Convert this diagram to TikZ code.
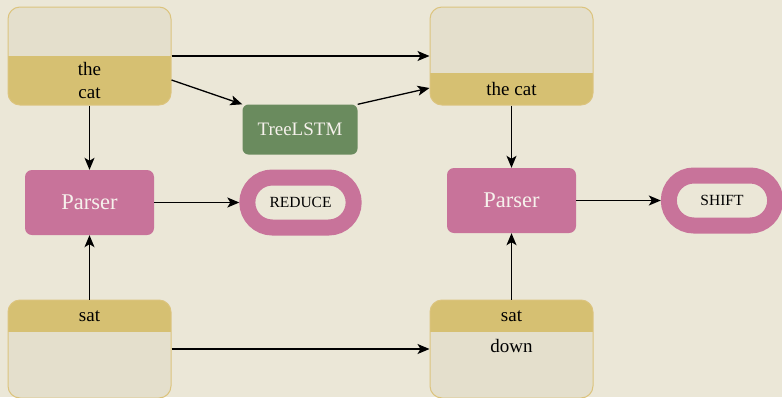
\documentclass[tikz,border=0pt]{standalone}
\usepackage{fontspec}
\setmainfont{Liberation Serif}
\usetikzlibrary{arrows.meta,shapes.misc}
\definecolor{bgpaper}{HTML}{EBE7D7}
\definecolor{boxfill}{HTML}{E4DFCC}
\definecolor{goldfill}{HTML}{D6C072}
\definecolor{goldline}{HTML}{DCC47E}
\definecolor{pinkfill}{HTML}{C8739A}
\definecolor{greenfill}{HTML}{6A8B5E}
\definecolor{paletext}{HTML}{F6F1EC}
\begin{document}
\begin{tikzpicture}[x=1pt,y=-1pt,
  stack/.style={draw=goldline,fill=boxfill,line width=1pt,rounded corners=12pt,
    minimum width=163pt,minimum height=98pt},
  lowgold/.style={stack,path picture={\fill[goldfill,sharp corners] ([yshift=#1]path picture bounding box.south west)
    rectangle (path picture bounding box.south east);}},
  topgold/.style={stack,path picture={\fill[goldfill,sharp corners] ([yshift=-#1]path picture bounding box.north west)
    rectangle (path picture bounding box.north east);}},
  word/.style={font=\fontsize{19}{23}\selectfont,inner sep=0pt},
  parser/.style={fill=pinkfill,rounded corners=7pt,minimum width=129pt,minimum height=65pt,
    text=paletext,font=\fontsize{22.5}{26}\selectfont},
  action/.style={rounded rectangle,draw=pinkfill,fill=bgpaper,line width=16pt,
    minimum width=113pt,minimum height=50pt,font=\fontsize{15.5}{18}\selectfont},
  cell/.style={fill=greenfill,rounded corners=6pt,minimum width=115pt,minimum height=50pt,
    text=paletext,font=\fontsize{19}{22}\selectfont},
  arr/.style={-{Stealth[length=12pt,width=10pt,inset=3pt]},line width=1.3pt}]
  \useasboundingbox (0,0) rectangle (782,397);
  \fill[bgpaper] (0,0) rectangle (782,397);

  % stacks before and after the transition
  \node[lowgold=49pt] (tl) at (89.5,56) {};
  \node[lowgold=32pt] (tr) at (511.5,56) {};
  \node[topgold=32pt] (bl) at (89.5,349) {};
  \node[topgold=32pt] (br) at (511.5,349) {};
  \node[word,align=center] (tlw) at (89.5,80.5) {the\\cat};
  \node[word] (trw) at (511.5,89) {the cat};
  \node[word] (blw) at (89.5,316) {sat};
  \node[word] (brw) at (511.5,316) {sat};
  \node[word] (brd) at (511.5,346) {down};

  \node[cell] (tree) at (300,129.5) {TreeLSTM};
  \node[parser] (pl) at (89.5,202.5) {Parser};
  \node[parser] (pr) at (511.5,200.5) {Parser};
  \node[action] (reduce) at (300.5,202.5) {REDUCE};
  \node[action] (shift) at (722,200.5) {SHIFT};

  \draw[arr] ([yshift=-24pt]tl.east) -- (tree.north west);
  \draw[arr] (tree.north east) -- ([yshift=-32pt]tr.west);
  \foreach \a/\b in {tl/tr,tl/pl,bl/pl,pl/reduce,bl/br,tr/pr,br/pr,pr/shift}
    \draw[arr] (\a) -- (\b);
\end{tikzpicture}
\end{document}
